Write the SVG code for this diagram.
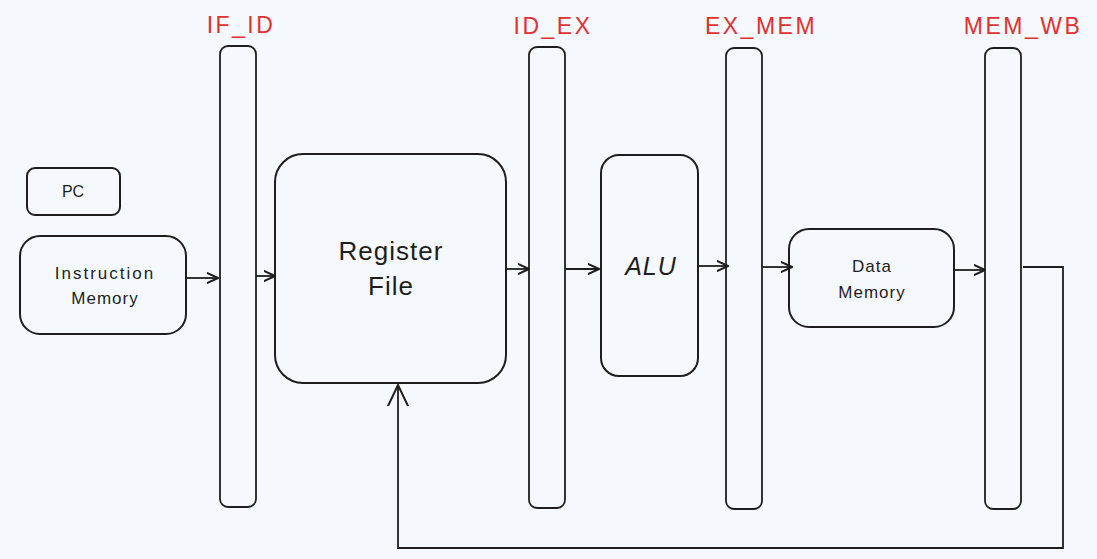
<svg xmlns="http://www.w3.org/2000/svg" width="1097" height="559" viewBox="0 0 1097 559">
<defs>
<marker id="ah" viewBox="0 0 12 12" refX="11" refY="6" markerWidth="12" markerHeight="12" markerUnits="userSpaceOnUse" orient="auto">
<path d="M0,1 L11,6 L0,11" fill="none" stroke="#1e1e1e" stroke-width="2" stroke-linecap="round"/>
</marker>
<marker id="ahbig" viewBox="0 0 22 32" refX="21" refY="16" markerWidth="22" markerHeight="32" markerUnits="userSpaceOnUse" orient="auto">
<path d="M0,6 L21,16 L0,26" fill="none" stroke="#1e1e1e" stroke-width="2" stroke-linecap="round"/>
</marker>
</defs>
<style>
.box{fill:none;stroke:#1e1e1e;stroke-width:2}
.reg{fill:none;stroke:#1e1e1e;stroke-width:1.8}
.t{font-family:"Liberation Sans",Arial,sans-serif;fill:#1e1e1e;text-anchor:middle;dominant-baseline:central}
.lab{font-family:"Liberation Sans",Arial,sans-serif;fill:#e03131;text-anchor:middle;dominant-baseline:central;font-size:23px;letter-spacing:2.5px}
.c{fill:none;stroke:#1e1e1e;stroke-width:1.8}
</style>
<rect width="1097" height="559" fill="#f5f9fd"/>

<g id="if_id">
<rect class="reg" x="220" y="46" width="36" height="461" rx="8"/>
<text class="lab" x="241" y="25">IF_ID</text>
</g>
<g id="id_ex">
<rect class="reg" x="529" y="47" width="36" height="461" rx="8"/>
<text class="lab" x="553" y="26">ID_EX</text>
</g>
<g id="ex_mem">
<rect class="reg" x="726" y="48" width="36" height="461" rx="8"/>
<text class="lab" x="761" y="26">EX_MEM</text>
</g>
<g id="mem_wb">
<rect class="reg" x="985" y="48" width="36" height="461" rx="8"/>
<text class="lab" x="1023" y="26">MEM_WB</text>
</g>

<g id="pc">
<rect class="box" x="27" y="168" width="93" height="47" rx="8"/>
<text class="t" x="73" y="191" font-size="16">PC</text>
</g>
<g id="instruction_memory">
<rect class="box" x="20" y="236" width="166" height="98" rx="20"/>
<text class="t" x="105" y="273" font-size="17" letter-spacing="2">Instruction</text>
<text class="t" x="105" y="298" font-size="17" letter-spacing="1">Memory</text>
</g>
<g id="register_file">
<rect class="box" x="275" y="154" width="231" height="229" rx="28"/>
<text class="t" x="391" y="251" font-size="26" letter-spacing="1">Register</text>
<text class="t" x="391" y="286" font-size="26" letter-spacing="1">File</text>
</g>
<g id="alu">
<rect class="box" x="601" y="155" width="97" height="221" rx="18"/>
<text class="t" x="651" y="266" font-size="25" font-style="italic" letter-spacing="1">ALU</text>
</g>
<g id="data_memory">
<rect class="box" x="789" y="229" width="165" height="98" rx="20"/>
<text class="t" x="872" y="266" font-size="17" letter-spacing="1">Data</text>
<text class="t" x="872" y="292" font-size="17" letter-spacing="1">Memory</text>
</g>

<g id="connectors">
<line class="c" x1="186" y1="278" x2="218" y2="278" marker-end="url(#ah)"/>
<line class="c" x1="256" y1="276" x2="275" y2="276" marker-end="url(#ah)"/>
<line class="c" x1="506" y1="269" x2="529" y2="269" marker-end="url(#ah)"/>
<line class="c" x1="565" y1="269" x2="599" y2="269" marker-end="url(#ah)"/>
<line class="c" x1="698" y1="266" x2="728" y2="266" marker-end="url(#ah)"/>
<line class="c" x1="762" y1="267" x2="792" y2="267" marker-end="url(#ah)"/>
<line class="c" x1="954" y1="270" x2="985" y2="270" marker-end="url(#ah)"/>
<polyline class="c" points="1023,267 1063,267 1063,548 398,548 398,385" marker-end="url(#ahbig)"/>
</g>
</svg>
